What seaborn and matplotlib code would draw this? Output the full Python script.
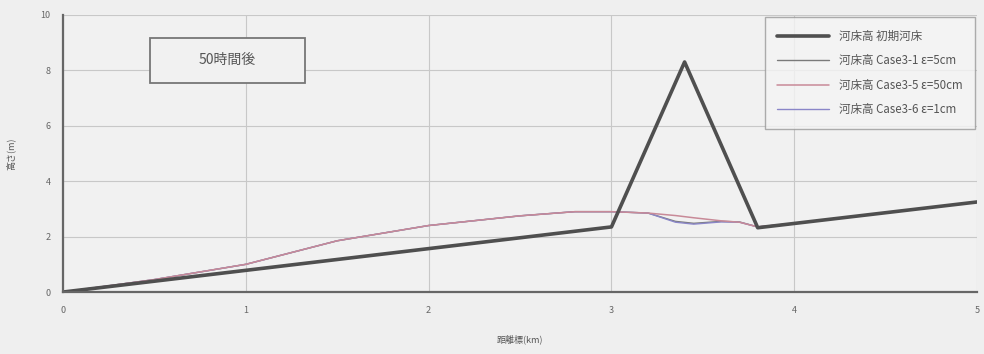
import numpy as np
import matplotlib
matplotlib.use('Agg')
import matplotlib.pyplot as plt
from matplotlib.patches import Rectangle
import seaborn as sns
import pandas as pd

# distance (km) and bed heights (m)
x_init = [0.0, 3.0, 3.4, 3.8, 5.0]
z_init = [0.0, 2.35, 8.3, 2.32, 3.25]

x_case = [0.0, 0.5, 1.0, 1.5, 2.0, 2.5, 2.8, 3.0, 3.2, 3.35, 3.45, 3.6, 3.7, 3.8, 4.0, 5.0]
z_case1 = [0.0, 0.45, 1.0, 1.85, 2.4, 2.75, 2.9, 2.9, 2.85, 2.55, 2.48, 2.55, 2.53, 2.35, 2.48, 3.25]
z_case5 = [0.0, 0.45, 1.0, 1.85, 2.4, 2.75, 2.9, 2.9, 2.85, 2.76, 2.68, 2.57, 2.52, 2.35, 2.48, 3.25]
z_case6 = [0.0, 0.45, 1.0, 1.85, 2.4, 2.75, 2.9, 2.9, 2.85, 2.52, 2.45, 2.53, 2.52, 2.35, 2.48, 3.25]

labels = ['河床高 初期河床', '河床高 Case3-1 ε=5cm', '河床高 Case3-5 ε=50cm', '河床高 Case3-6 ε=1cm']
x_ticks = [0, 1, 2, 3, 4, 5]
y_ticks = [0, 2, 4, 6, 8, 10]

sns.set_style('whitegrid')
plt.rcParams['font.family'] = ['Noto Sans CJK JP', 'DejaVu Sans']

bg = '#efefef'
fig = plt.figure(figsize=(9.84, 3.54), dpi=100, facecolor=bg)
ax = fig.add_axes([0.064, 0.175, 0.929, 0.783])
ax.set_facecolor('#f1f1f1')

sns.lineplot(x=x_case, y=z_case1, color='#7a7a7a', lw=1.0, label=labels[1], ax=ax, sort=False)
sns.lineplot(x=x_case, y=z_case6, color='#8a86c8', lw=1.0, label=labels[3], ax=ax, sort=False)
sns.lineplot(x=x_case, y=z_case5, color='#c88a98', lw=1.1, label=labels[2], ax=ax, sort=False)
sns.lineplot(x=x_init, y=z_init, color='#4f4f4f', lw=2.6, label=labels[0], ax=ax, sort=False)

ax.set_xlim(0, 5)
ax.set_ylim(0, 10)
ax.set_xticks(x_ticks)
ax.set_yticks(y_ticks)
ax.tick_params(labelsize=6.5, colors='#666666', length=3, direction='in')
ax.tick_params(axis='x', pad=10)
ax.tick_params(axis='y', pad=9)
ax.grid(True, color='#c8c8c8', lw=0.8)
for s in ['left', 'bottom']:
    ax.spines[s].set_color('#666666')
    ax.spines[s].set_linewidth(1.6)
for s in ['top', 'right']:
    ax.spines[s].set_visible(False)

ax.set_xlabel('距離標(km)', fontsize=6.5, color='#555555', labelpad=14)
ax.set_ylabel('高さ(m)', fontsize=6.5, color='#555555', labelpad=18)

# title box "50時間後"
ax.add_patch(Rectangle((0.095, 0.755), 0.17, 0.162, transform=ax.transAxes,
                       fc='#f1f1f1', ec='#777777', lw=1.3, zorder=5))
ax.text(0.18, 0.836, '50時間後', transform=ax.transAxes, ha='center', va='center',
        fontsize=10, color='#555555', zorder=6)

h, l = ax.get_legend_handles_labels()
order = [3, 0, 2, 1]
leg = ax.legend([h[i] for i in order], [l[i] for i in order], loc='upper right',
                fontsize=8.3, frameon=True, fancybox=False, handlelength=4.5,
                labelspacing=1.0, borderpad=1.1, borderaxespad=0.2, facecolor='#f4f4f4')
leg.get_frame().set_edgecolor('#999999')
for t in leg.get_texts():
    t.set_color('#555555')

fig.savefig('out.png', dpi=100, facecolor=bg)
